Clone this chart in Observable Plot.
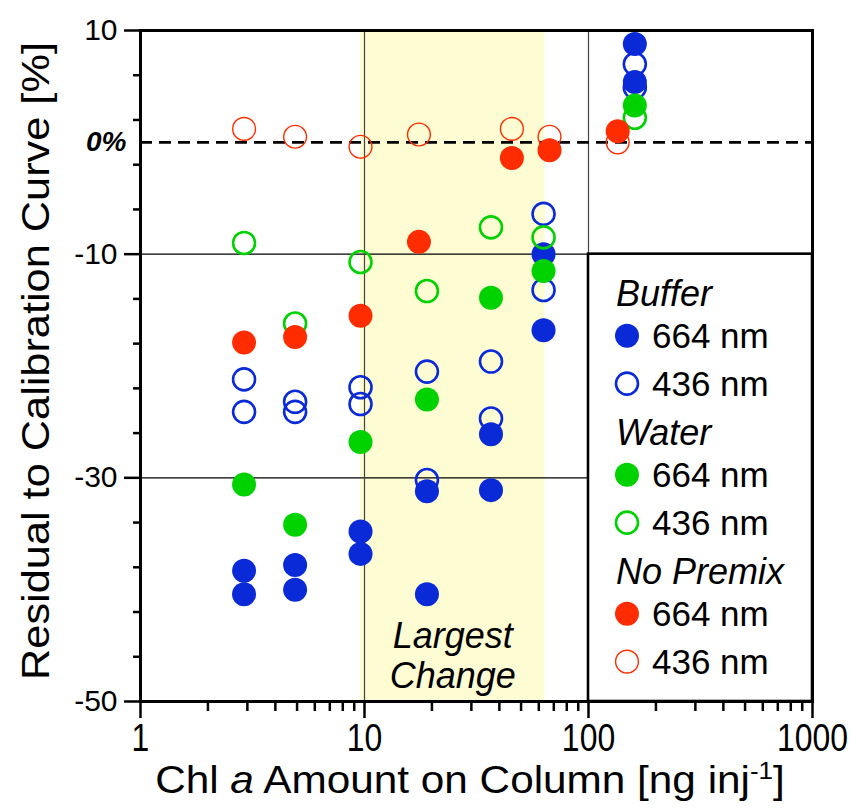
<!DOCTYPE html>
<html>
<head>
<meta charset="utf-8">
<script src="https://cdn.jsdelivr.net/npm/d3@7"></script>
<script src="https://cdn.jsdelivr.net/npm/@observablehq/plot@0.6"></script>
<style>
  html, body { margin: 0; padding: 0; background: #fff; }
  #chart { width: 852px; height: 809px; }
</style>
</head>
<body>
<div id="chart"></div>
<script>
// ---------- data ----------
const xMajorTicks = [1, 10, 100, 1000];
const xMinorTicks = [2, 3, 4, 5, 6, 7, 8, 9, 20, 30, 40, 50, 60, 70, 80, 90, 200, 300, 400, 500, 600, 700, 800, 900];
const yMajorTicks = [10, -10, -30, -50];
const yMinorTicks = [6, 2, -2, -6, -14, -18, -22, -26, -34, -38, -42, -46];
const gridY = [-10, -30];
const gridX = [10, 100];
const zeroLine = [0];
const largestChangeBand = [9.6, 64];
const legendGroups = ["Buffer", "Water", "No Premix"];
const wavelengths = ["664 nm", "436 nm"];

const bufferX = [2.9, 2.9, 4.9, 4.9, 9.6, 9.6, 19, 19, 36.7, 36.7, 63, 63, 161, 161];
const buffer664 = [-38.3, -40.4, -37.8, -40.0, -34.8, -36.8, -31.2, -40.4, -26.1, -31.1, -10.0, -16.8, 8.8, 5.4];
const buffer436 = [-21.2, -24.1, -23.2, -24.1, -21.9, -23.4, -20.5, -30.2, -19.6, -24.7, -6.4, -13.2, 7.0, 4.9];
const waterX = [2.9, 4.9, 9.6, 19, 36.7, 63, 161];
const water664 = [-30.6, -34.2, -26.8, -23.0, -13.9, -11.5, 3.3];
const water436 = [-9.0, -16.2, -10.7, -13.3, -7.6, -8.5, 2.2];
const premixX = [2.9, 4.9, 9.6, 17.5, 45.5, 67, 135];
const noPremix664 = [-17.9, -17.4, -15.5, -8.9, -1.4, -0.7, 1.0];
const noPremix436 = [1.2, 0.5, -0.4, 0.7, 1.2, 0.5, 0.0];

const groupColors = { "Buffer": "#0a2ad8", "Water": "#00d200", "No Premix": "#ff2c00" };

// drawing order: open then filled, buffer -> water -> no premix
const series = [
  { group: "Buffer", wl: "436 nm", x: bufferX, y: buffer436 },
  { group: "Buffer", wl: "664 nm", x: bufferX, y: buffer664 },
  { group: "Water", wl: "436 nm", x: waterX, y: water436 },
  { group: "Water", wl: "664 nm", x: waterX, y: water664 },
  { group: "No Premix", wl: "436 nm", x: premixX, y: noPremix436 },
  { group: "No Premix", wl: "664 nm", x: premixX, y: noPremix664 }
];

const FONT = "'Liberation Sans', Arial, Helvetica, sans-serif";

function dotOptions(s) {
  const filled = s.wl === "664 nm";
  const c = groupColors[s.group];
  if (filled) return { r: 12, fill: c, stroke: "none" };
  return { r: s.group === "No Premix" ? 11.4 : 11, fill: "none", stroke: c, strokeWidth: s.group === "No Premix" ? 1.4 : 2.6 };
}

const dotMarks = series.map(s => {
  const rows = s.x.map((x, i) => ({ x, y: s.y[i] }));
  return Plot.dot(rows, { x: "x", y: "y", ...dotOptions(s) });
});

const chart = Plot.plot({
  width: 852,
  height: 809,
  marginLeft: 140,
  marginRight: 40,
  marginTop: 30,
  marginBottom: 108,
  x: { type: "log", domain: [1, 1000] },
  y: { domain: [-50, 10] },
  style: { fontFamily: FONT, background: "white", color: "black", overflow: "visible" },
  marks: [
    Plot.rect([largestChangeBand], { x1: d => d[0], x2: d => d[1], y1: -50, y2: 10, fill: "#fdfcd3" }),
    Plot.ruleY(gridY, { stroke: "#000", strokeWidth: 1.2 }),
    Plot.ruleX(gridX, { stroke: "#444", strokeWidth: 1.2 }),
    Plot.ruleY(zeroLine, { stroke: "#000", strokeWidth: 2.6, strokeDasharray: "12,7" }),
    Plot.rect([0], { x1: 100, x2: 1000, y1: -50, y2: -10, fill: "white", stroke: "black", strokeWidth: 2.6 }),
    ...dotMarks,
    Plot.text(["Largest\nChange"], {
      x: () => Math.sqrt(largestChangeBand[0] * largestChangeBand[1]),
      y: () => -50, dy: -14, lineAnchor: "bottom", text: d => d,
      fontSize: 36, fontStyle: "italic", lineHeight: 1.1, fill: "black"
    }),
    Plot.text(zeroLine, {
      y: d => d, frameAnchor: "left", dx: -14, textAnchor: "end", text: () => "0%",
      fontSize: 28, fontWeight: "bold", fontStyle: "italic", fill: "black"
    }),
    Plot.frame({ stroke: "black", strokeWidth: 3 }),
    Plot.axisX(xMajorTicks, { anchor: "bottom", tickSize: 17, tickPadding: 6, fontSize: 38, strokeWidth: 2.5, tickFormat: d => String(d), label: null }),
    Plot.axisX(xMinorTicks, { anchor: "bottom", tickSize: 10, strokeWidth: 2.5, tickFormat: () => "", label: null }),
    Plot.axisY(yMajorTicks, { anchor: "left", tickSize: 16, tickPadding: 7, fontSize: 30, strokeWidth: 2.5, tickFormat: d => String(d), label: null }),
    Plot.axisY(yMinorTicks, { anchor: "left", tickSize: 7, strokeWidth: 2.5, tickFormat: () => "", label: null })
  ]
});

document.getElementById("chart").appendChild(chart);

const svg = d3.select(chart);
const xs = chart.scale("x"), ys = chart.scale("y");

// condense x tick labels (horizontal scale about each label's anchor)
svg.selectAll('g[aria-label="x-axis tick label"] text').each(function () {
  const w = this.getComputedTextLength();
  if (w > 0) d3.select(this).attr("textLength", w * 0.84).attr("lengthAdjust", "spacingAndGlyphs");
});

// ---------- legend ----------
const lx = xs.apply(100), ly = ys.apply(-10);
const lg = svg.append("g").attr("font-family", FONT).attr("fill", "black").attr("text-anchor", "start");
legendGroups.forEach((grp, gi) => {
  const base = ly + 52 + gi * 139;
  lg.append("text").attr("x", lx + 28).attr("y", base).attr("font-size", 36).attr("font-style", "italic").text(grp);
  wavelengths.forEach((wl, wi) => {
    const cy = base + 30 + wi * 48;
    const opts = dotOptions({ group: grp, wl });
    lg.append("circle").attr("cx", lx + 39).attr("cy", cy).attr("r", opts.r)
      .attr("fill", opts.fill).attr("stroke", opts.stroke).attr("stroke-width", opts.strokeWidth || 0);
    lg.append("text").attr("x", lx + 64).attr("y", cy + 12).attr("font-size", 35).text(wl);
  });
});

// ---------- axis titles ----------
function condensedTitle(transform, targetWidth, build) {
  const g = svg.append("g").attr("font-family", FONT).attr("font-size", 39).attr("fill", "black");
  const t = g.append("text").attr("text-anchor", "middle");
  build(t);
  const w = t.node().getComputedTextLength();
  g.attr("transform", transform + ` scale(${targetWidth / w},1)`);
}
condensedTitle("translate(470,793)", 630, t => {
  t.append("tspan").text("Chl ");
  t.append("tspan").attr("font-style", "italic").text("a");
  t.append("tspan").text(" Amount on Column [ng inj");
  t.append("tspan").attr("font-size", 24).attr("dy", -14).text("-1");
  t.append("tspan").attr("dy", 14).text("]");
});
condensedTitle("translate(49,361) rotate(-90)", 638, t => {
  t.append("tspan").text("Residual to Calibration Curve [%]");
});
</script>
</body>
</html>
